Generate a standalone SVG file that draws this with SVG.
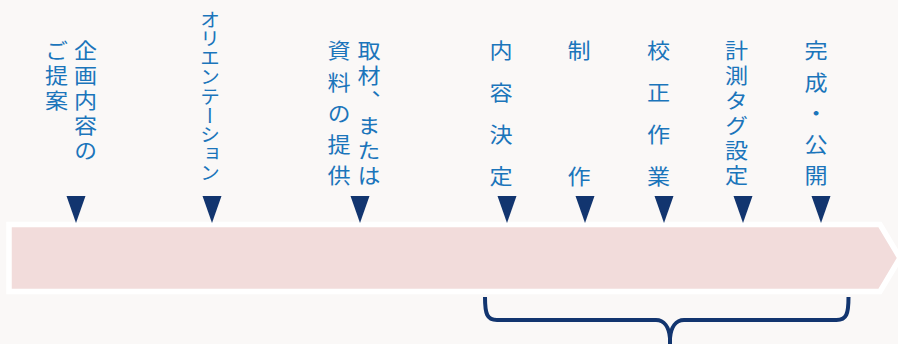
<svg xmlns="http://www.w3.org/2000/svg" xmlns:xlink="http://www.w3.org/1999/xlink" width="898" height="344" viewBox="0 0 898 344">
  <style>
    .lbl { font-family: "Noto Sans CJK JP", "Noto Sans", sans-serif; font-size: 21px; fill: #1b75bb; writing-mode: vertical-rl; }
    .tri { fill: #12356f; }
    .brace { fill: none; stroke: #12356f; stroke-width: 4; stroke-linecap: butt; }
  </style>
  <defs>
    <path id="tri" d="M-9.5,196 H9.5 L0,223 Z"/>
  </defs>
  <rect x="0" y="0" width="898" height="344" fill="#faf8f7"/>

  <g id="timeline-band">
    <polygon points="9,224.5 880,224.5 900,258 880,291.5 9,291.5" fill="#f2dcdb" stroke="#ffffff" stroke-width="5.5" stroke-linejoin="miter"/>
  </g>

  <g id="connectors">
    <use href="#tri" x="76" class="tri"/>
    <use href="#tri" x="212" class="tri"/>
    <use href="#tri" x="360" class="tri"/>
    <use href="#tri" x="507" class="tri"/>
    <use href="#tri" x="585" class="tri"/>
    <use href="#tri" x="664" class="tri"/>
    <use href="#tri" x="743" class="tri"/>
    <use href="#tri" x="821" class="tri"/>
    <path class="brace" d="M485,297 C485,314 487,320 497,320 H656 C664,320 669,327 670,338 V344 M848.5,297 C848.5,314 846.5,320 836.5,320 H684 C676,320 671,327 670,338"/>
  </g>

  <g id="node-proposal">
    <text class="lbl" transform="translate(85.5,0) scale(1.1,1)" x="0" y="40" style="letter-spacing:4px">企画内容の</text>
    <text class="lbl" transform="translate(56.5,0) scale(1.1,1)" x="0" y="40" style="letter-spacing:4px">ご提案</text>
  </g>
  <g id="node-orientation">
    <text class="lbl" transform="translate(210,0) scale(1.05,1)" x="0" y="10" style="font-size:19px;letter-spacing:0.2px">オリエンテーション</text>
  </g>
  <g id="node-research">
    <text class="lbl" transform="translate(369,0) scale(1.1,1)" x="0" y="40" style="letter-spacing:4px">取材、または</text>
    <text class="lbl" transform="translate(339,0) scale(1.1,1)" x="0" y="40" style="letter-spacing:10.25px">資料の提供</text>
  </g>
  <g id="node-content">
    <text class="lbl" transform="translate(501,0) scale(1.1,1)" x="0" y="40" style="letter-spacing:20.7px">内容決定</text>
  </g>
  <g id="node-production">
    <text class="lbl" transform="translate(579,0) scale(1.1,1)" x="0" y="40" style="letter-spacing:20.7px">制　　作</text>
  </g>
  <g id="node-proofing">
    <text class="lbl" transform="translate(658.5,0) scale(1.1,1)" x="0" y="40" style="letter-spacing:20.7px">校正作業</text>
  </g>
  <g id="node-tagging">
    <text class="lbl" transform="translate(736.5,0) scale(1.1,1)" x="0" y="40" style="letter-spacing:4px">計測タグ設定</text>
  </g>
  <g id="node-release">
    <text class="lbl" transform="translate(816,0) scale(1.1,1)" x="0" y="40" style="letter-spacing:10.25px">完成・公開</text>
  </g>
</svg>
